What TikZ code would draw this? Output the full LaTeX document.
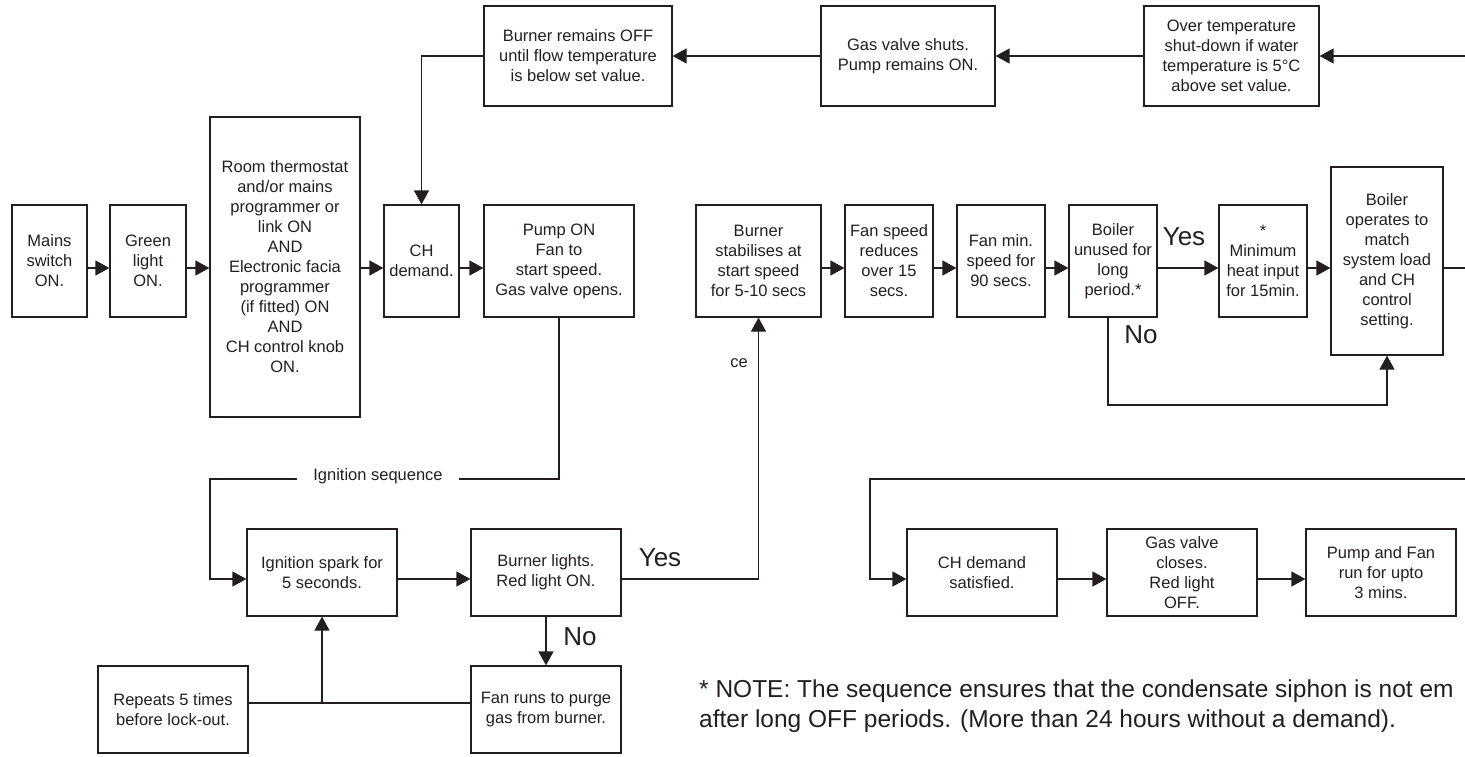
\documentclass[tikz,border=0pt]{standalone}
\usepackage{fontspec}
\setmainfont{Liberation Sans}
\usetikzlibrary{arrows.meta}
\definecolor{ink}{RGB}{35,31,32}
\begin{document}
\begin{tikzpicture}[x=1pt,y=-1pt,
  box/.style={draw=ink, line width=1.2pt, inner sep=2pt, align=center,
    font=\fontsize{16.5}{20}\selectfont, text=ink},
  arr/.style={draw=ink, line width=1.2pt, -{Triangle[length=14pt,width=15pt]}},
  ln/.style={draw=ink, line width=1.2pt},
  big/.style={font=\fontsize{26}{30}\selectfont, text=ink, inner sep=0pt},
  lbl/.style={font=\fontsize{16.5}{20}\selectfont, text=ink, inner sep=0pt},
  notetxt/.style={font=\fontsize{24.5}{30}\selectfont, text=ink, inner sep=0pt, anchor=base west}]
\useasboundingbox (0,0) rectangle (1465,756);
\clip (0,0) rectangle (1465,756);

% reference levels
\coordinate (yA) at (0,268);
\coordinate (yB) at (0,579);
\coordinate (yC) at (0,703);

% top row
\node[box, minimum width=188pt, minimum height=100pt] (bof) at (578,56) {Burner remains OFF\\until flow temperature\\is below set value.};
\node[box, minimum width=174pt, minimum height=100pt] (gvs) at (908,56) {Gas valve shuts.\\Pump remains ON.};
\node[box, minimum width=175pt, minimum height=100pt] (ot) at (1231.5,56) {Over temperature\\shut-down if water\\temperature is 5°C\\above set value.};

% middle row
\node[box, minimum width=75pt, minimum height=112pt] (ms) at (49.5,261) {Mains\\switch\\ON.};
\node[box, minimum width=76pt, minimum height=112pt] (gl) at (148,261) {Green\\light\\ON.};
\node[box, minimum width=150pt, minimum height=300pt] (rt) at (285,267) {Room thermostat\\and/or mains\\programmer or\\link ON\\AND\\Electronic facia\\programmer\\(if fitted) ON\\AND\\CH control knob\\ON.};
\node[box, minimum width=75pt, minimum height=112pt] (chd) at (421.5,261) {CH\\demand.};
\node[box, minimum width=150pt, minimum height=112pt] (pmp) at (559,261) {Pump ON\\Fan to\\start speed.\\Gas valve opens.};
\node[box, minimum width=125pt, minimum height=112pt] (bs) at (758.5,261) {Burner\\stabilises at\\start speed\\for 5-10 secs};
\node[box, minimum width=88pt, minimum height=112pt] (fs) at (889,261) {Fan speed\\reduces\\over 15\\secs.};
\node[box, minimum width=88pt, minimum height=112pt] (fm) at (1001,261) {Fan min.\\speed for\\90 secs.};
\node[box, minimum width=88pt, minimum height=112pt] (bu) at (1113,261) {Boiler\\unused for\\long\\period.*};
\node[box, minimum width=88pt, minimum height=112pt] (mh) at (1263,261) {*\\Minimum\\heat input\\for 15min.};
\node[box, minimum width=112pt, minimum height=188pt] (bop) at (1387,261) {Boiler\\operates to\\match\\system load\\and CH\\control\\setting.};

% bottom left
\node[box, minimum width=150pt, minimum height=87pt] (isp) at (322,572.5) {Ignition spark for\\5 seconds.};
\node[box, minimum width=150pt, minimum height=87pt] (bl) at (546,572.5) {Burner lights.\\Red light ON.};
\node[box, minimum width=150pt, minimum height=87pt] (fr) at (546,709.5) {Fan runs to purge\\gas from burner.};
\node[box, minimum width=150pt, minimum height=87pt] (rp) at (173,709.5) {Repeats 5 times\\before lock-out.};

% bottom right
\node[box, minimum width=150pt, minimum height=87pt] (cds) at (982,572.5) {CH demand\\satisfied.};
\node[box, minimum width=150pt, minimum height=87pt] (gvc) at (1182,572.5) {Gas valve\\closes.\\Red light\\OFF.};
\node[box, minimum width=150pt, minimum height=87pt] (pf) at (1381,572.5) {Pump and Fan\\run for upto\\3 mins.};

% top connectors
\coordinate (tEdge) at (1465,56);
\draw[arr] (tEdge) -- (ot.east);
\draw[arr] (ot.west) -- (gvs.east);
\draw[arr] (gvs.west) -- (bof.east);
\draw[arr] (bof.west) -| (chd.north);

% middle connectors
\draw[arr] (ms.east |- yA) -- (gl.west |- yA);
\draw[arr] (gl.east |- yA) -- (rt.west |- yA);
\draw[arr] (rt.east |- yA) -- (chd.west |- yA);
\draw[arr] (chd.east |- yA) -- (pmp.west |- yA);
\draw[arr] (bs.east |- yA) -- (fs.west |- yA);
\draw[arr] (fs.east |- yA) -- (fm.west |- yA);
\draw[arr] (fm.east |- yA) -- (bu.west |- yA);
\draw[arr] (bu.east |- yA) -- (mh.west |- yA);
\draw[arr] (mh.east |- yA) -- (bop.west |- yA);
\coordinate (rEdge) at (1465,268);
\draw[ln] (bop.east |- yA) -- (rEdge);
\node[big] (yes2) at (1184,237) {Yes};
\node[big] (no2) at (1141,335) {No};
\coordinate (nL) at (1108,405);
\draw[arr] (bu.south -| nL) -- (nL) -| (bop.south);

% ignition sequence
\coordinate (g1) at (459,479);
\coordinate (g2) at (297,479);
\coordinate (g3) at (210,479);
\draw[ln] (pmp.south) |- (g1);
\node[lbl, anchor=base] (igs) at (378,480) {Ignition sequence};
\draw[arr] (g2) -- (g3) |- (isp.west |- yB);
\draw[arr] (isp.east |- yB) -- (bl.west |- yB);
\draw[arr] (bl.east |- yB) -| (bs.south);
\node[big] (yes1) at (660,558) {Yes};
\node[lbl] (ce) at (739,363) {ce};
\draw[arr] (bl.south) -- (fr.north);
\node[big] (no1) at (580,637) {No};
\draw[ln] (rp.east |- yC) -- (fr.west |- yC);
\draw[arr] (isp.south |- yC) -- (isp.south);

% end sequence
\coordinate (bEdge) at (1465,479);
\coordinate (b1) at (870,479);
\draw[arr] (bEdge) -- (b1) |- (cds.west |- yB);
\draw[arr] (cds.east |- yB) -- (gvc.west |- yB);
\draw[arr] (gvc.east |- yB) -- (pf.west |- yB);

% note
\node[notetxt] (note1) at (699,697) {* NOTE: The sequence ensures that the condensate siphon is not em};
\node[notetxt] (note2) at (699,727) {after long OFF periods. (More than 24 hours without a demand).};
\end{tikzpicture}
\end{document}
